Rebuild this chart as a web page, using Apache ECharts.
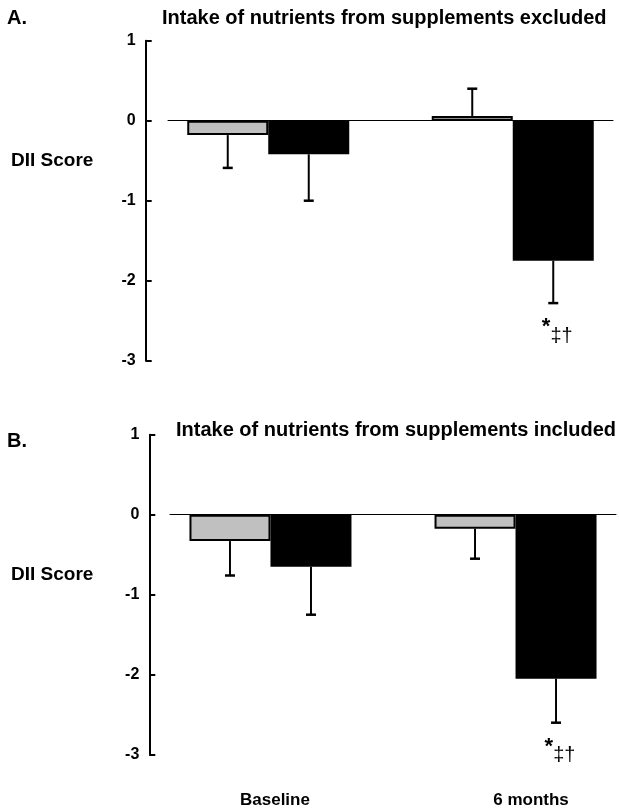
<!DOCTYPE html>
<html>
<head>
<meta charset="utf-8">
<script src="https://cdn.jsdelivr.net/npm/echarts@6/dist/echarts.min.js"></script>
<style>
  html, body { margin: 0; padding: 0; background: #fff; }
  #chart { width: 619px; height: 811px; }
</style>
</head>
<body>
<div id="chart"></div>
<script>
// ---- data ----
const categories = ['Baseline', '6 months'];
const yTicks = [-3, -2, -1, 0, 1];

// Panel A: nutrients from supplements excluded
const excludedControl = [-0.18, 0.06];
const excludedControlSE = [0.41, 0.34];
const excludedIntervention = [-0.42, -1.75];
const excludedInterventionSE = [0.58, 0.53];

// Panel B: nutrients from supplements included
const includedControl = [-0.33, -0.175];
const includedControlSE = [0.43, 0.375];
const includedIntervention = [-0.65, -2.05];
const includedInterventionSE = [0.60, 0.55];

const significance = ['', '*‡†'];

// ---- helpers ----
const FONT = 'Liberation Sans, Arial, Helvetica, sans-serif';
const BAR_W = 81;
const X_MIN = 0.59, X_MAX = 2.41;

function barData(vals) { return vals.map((v, i) => [i + 1, v]); }
function errData(vals, se, side) { return vals.map((v, i) => [i + 1, v, se[i], side]); }
function sigData(vals, se) {
  return vals.map((v, i) => [i + 1, v, se[i], i]).filter(d => significance[d[3]]);
}

function errEnd(v, se) { return v >= 0 ? v + se : v - se; }

function renderErr(params, api) {
  const x = api.value(0), v = api.value(1), se = api.value(2), side = api.value(3);
  const p0 = api.coord([x, v]);
  const p1 = api.coord([x, errEnd(v, se)]);
  const cx = p0[0] + side * BAR_W / 2;
  return {
    type: 'group',
    children: [
      { type: 'line', shape: { x1: cx, y1: p0[1], x2: cx, y2: p1[1] }, style: { stroke: '#000', lineWidth: 2 } },
      { type: 'line', shape: { x1: cx - 5, y1: p1[1], x2: cx + 5, y2: p1[1] }, style: { stroke: '#000', lineWidth: 2.5 } }
    ]
  };
}

function renderSig(params, api) {
  const x = api.value(0), v = api.value(1), se = api.value(2), ci = api.value(3);
  const p0 = api.coord([x, v]);
  const p1 = api.coord([x, errEnd(v, se)]);
  const cx = p0[0] + BAR_W / 2 + 4;
  const raw = significance[ci];
  const txt = '{s|' + raw.charAt(0) + '}{d|' + raw.slice(1) + '}';
  return {
    type: 'text',
    x: cx, y: p1[1] + 13,
    style: {
      text: txt, align: 'center', verticalAlign: 'top',
      rich: {
        s: { fontFamily: FONT, fontSize: 22, fontWeight: 'bold', fill: '#000', verticalAlign: 'top', padding: [0, 0, 8, 0] },
        d: { fontFamily: FONT, fontSize: 20, fill: '#000', verticalAlign: 'bottom' }
      }
    }
  };
}

function xAxisZero(gi) {
  return {
    gridIndex: gi, type: 'value', min: X_MIN, max: X_MAX,
    axisLine: { show: true, onZero: true, lineStyle: { color: '#000', width: 1 } },
    axisTick: { show: false }, axisLabel: { show: false }, splitLine: { show: false }
  };
}
function yAxisDef(gi, off) {
  return {
    gridIndex: gi, type: 'value', min: yTicks[0], max: yTicks[yTicks.length - 1], interval: 1,
    offset: off,
    axisLine: { show: true, onZero: false, lineStyle: { color: '#000', width: 2 } },
    axisTick: { show: true, inside: true, length: 6, lineStyle: { color: '#000', width: 2 } },
    axisLabel: { color: '#000', fontFamily: FONT, fontWeight: 'bold', fontSize: 16, margin: 10 },
    splitLine: { show: false }
  };
}
function barSeries(xi, yi, vals, color) {
  return {
    type: 'bar', xAxisIndex: xi, yAxisIndex: yi, data: barData(vals),
    barWidth: BAR_W, barGap: '0%',
    itemStyle: { color: color, borderColor: '#000', borderWidth: 2 },
    animation: false, silent: true
  };
}

const titleStyle = { color: '#000', fontFamily: FONT, fontWeight: 'bold', fontSize: 20 };
const nameStyle = { color: '#000', fontFamily: FONT, fontWeight: 'bold', fontSize: 19 };

const option = {
  animation: false,
  backgroundColor: '#fff',
  title: [
    { text: 'A.', left: 7, top: 8, padding: 0, textStyle: titleStyle },
    { text: 'Intake of nutrients from supplements excluded', left: 162, top: 8, padding: 0, textStyle: titleStyle },
    { text: 'DII Score', left: 11, top: 151.5, padding: 0, textStyle: nameStyle },
    { text: 'B.', left: 7, top: 431, padding: 0, textStyle: titleStyle },
    { text: 'Intake of nutrients from supplements included', left: 176, top: 420, padding: 0, textStyle: titleStyle },
    { text: 'DII Score', left: 11, top: 565.5, padding: 0, textStyle: nameStyle }
  ],
  grid: [
    { left: 168, right: 6, top: 40.7, bottom: 450.3 },
    { left: 170, right: 3, top: 434.7, bottom: 56.3 }
  ],
  xAxis: [
    xAxisZero(0),
    xAxisZero(1),
    {
      gridIndex: 1, type: 'value', min: X_MIN, max: X_MAX, position: 'bottom',
      axisLine: { show: false, onZero: false }, axisTick: { show: false }, splitLine: { show: false },
      axisLabel: {
        show: true, customValues: [1, 2], margin: 37,
        formatter: v => '{' + (Math.round(v) === 1 ? 'a' : 'b') + '|' + categories[Math.round(v) - 1] + '}',
        rich: {
          a: { color: '#000', fontFamily: FONT, fontWeight: 'bold', fontSize: 17, padding: [0, 0, 0, 9] },
          b: { color: '#000', fontFamily: FONT, fontWeight: 'bold', fontSize: 17, padding: [0, 0, 0, 31] }
        }
      }
    }
  ],
  yAxis: [yAxisDef(0, 22.3), yAxisDef(1, 20.7)],
  series: [
    barSeries(0, 0, excludedControl, '#c0c0c0'),
    barSeries(0, 0, excludedIntervention, '#000'),
    {
      type: 'custom', xAxisIndex: 0, yAxisIndex: 0, renderItem: renderSig,
      data: sigData(excludedIntervention, excludedInterventionSE),
      encode: { x: 0, y: 1 }, silent: true, z: 5
    },
    {
      type: 'custom', xAxisIndex: 0, yAxisIndex: 0, renderItem: renderErr,
      data: errData(excludedControl, excludedControlSE, -1).concat(errData(excludedIntervention, excludedInterventionSE, 1)),
      encode: { x: 0, y: 1 }, silent: true, z: 4
    },
    barSeries(1, 1, includedControl, '#c0c0c0'),
    barSeries(1, 1, includedIntervention, '#000'),
    {
      type: 'custom', xAxisIndex: 1, yAxisIndex: 1, renderItem: renderSig,
      data: sigData(includedIntervention, includedInterventionSE),
      encode: { x: 0, y: 1 }, silent: true, z: 5
    },
    {
      type: 'custom', xAxisIndex: 1, yAxisIndex: 1, renderItem: renderErr,
      data: errData(includedControl, includedControlSE, -1).concat(errData(includedIntervention, includedInterventionSE, 1)),
      encode: { x: 0, y: 1 }, silent: true, z: 4
    }
  ]
};

const chart = echarts.init(document.getElementById('chart'), null, { renderer: 'canvas' });
chart.setOption(option);
</script>
</body>
</html>
